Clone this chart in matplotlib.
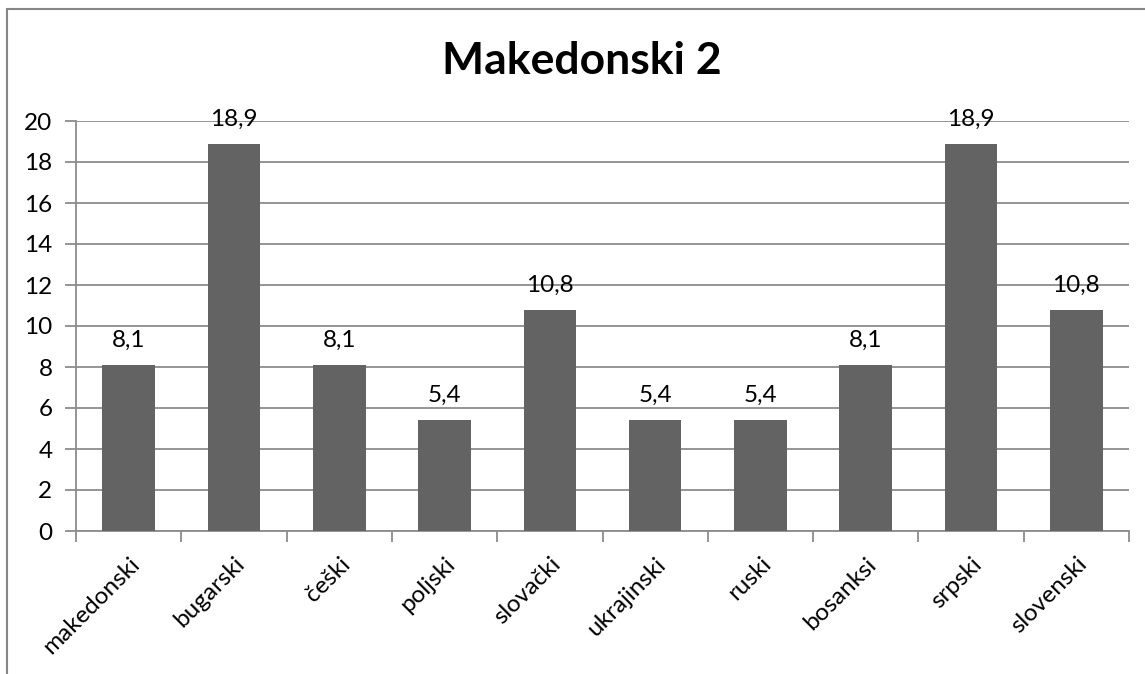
import numpy as np
import matplotlib
matplotlib.use('Agg')
import matplotlib.pyplot as plt
from matplotlib.patches import Rectangle
from matplotlib.transforms import ScaledTranslation

plt.rcParams['font.family'] = ['Lato', 'DejaVu Sans']

# data
languages = ['makedonski', 'bugarski', 'češki', 'poljski', 'slovački',
             'ukrajinski', 'ruski', 'bosanksi', 'srpski', 'slovenski']
values = [8.1, 18.9, 8.1, 5.4, 10.8, 5.4, 5.4, 8.1, 18.9, 10.8]
title = 'Makedonski 2'

BAR_COLOR = '#636363'
GRID_COLOR = '#8c8c8c'
FS = 17.5

fig = plt.figure(figsize=(11.45, 6.74), dpi=100)
ax = fig.add_axes([76 / 1145, 1 - 531 / 674, (1129 - 76) / 1145, (531 - 121) / 674])

x = np.arange(len(languages))
bars = ax.bar(x, values, width=0.5, color=BAR_COLOR, zorder=3)

ax.set_xlim(-0.5, len(languages) - 0.5)
ax.set_ylim(0, 20)
ax.set_yticks(np.arange(0, 21, 2))
ax.yaxis.grid(True, color=GRID_COLOR, linewidth=1.3, zorder=0)

# category boundary ticks on x axis
ax.set_xticks(np.arange(-0.5, len(languages), 1.0))
ax.set_xticklabels([])
ax.set_xticks(x, minor=True)
ax.set_xticklabels(languages, minor=True, rotation=45, ha='right',
                   rotation_mode='anchor', fontsize=FS)
shift = ScaledTranslation(-5 / 100, 0, fig.dpi_scale_trans)
for lbl in ax.get_xticklabels(minor=True):
    lbl.set_transform(lbl.get_transform() + shift)
ax.tick_params(axis='x', which='minor', length=0, pad=16)
ax.tick_params(axis='x', which='major', length=8, width=1.3, color=GRID_COLOR)
ax.tick_params(axis='y', length=8, width=1.3, color=GRID_COLOR, labelsize=FS, pad=9)

for side in ['top', 'right']:
    ax.spines[side].set_visible(False)
for side in ['left', 'bottom']:
    ax.spines[side].set_color(GRID_COLOR)
    ax.spines[side].set_linewidth(1.3)

# value labels with comma decimals
for b, v in zip(bars, values):
    ax.annotate(f'{v:.1f}'.replace('.', ','), (b.get_x() + b.get_width() / 2, v),
                xytext=(0, 13), textcoords='offset points', ha='center',
                va='baseline', fontsize=FS)

fig.text(0.508, 1 - 61 / 674, title, ha='center', va='center',
         fontsize=32, fontweight='bold')

# chart border (cut off on right and bottom)
fig.patches.append(Rectangle((7 / 1145, -0.1), 1.2, 1.1 - 9 / 674,
                             transform=fig.transFigure, fill=False,
                             edgecolor='#868686', linewidth=1.5))

fig.savefig('out.png', dpi=100)
